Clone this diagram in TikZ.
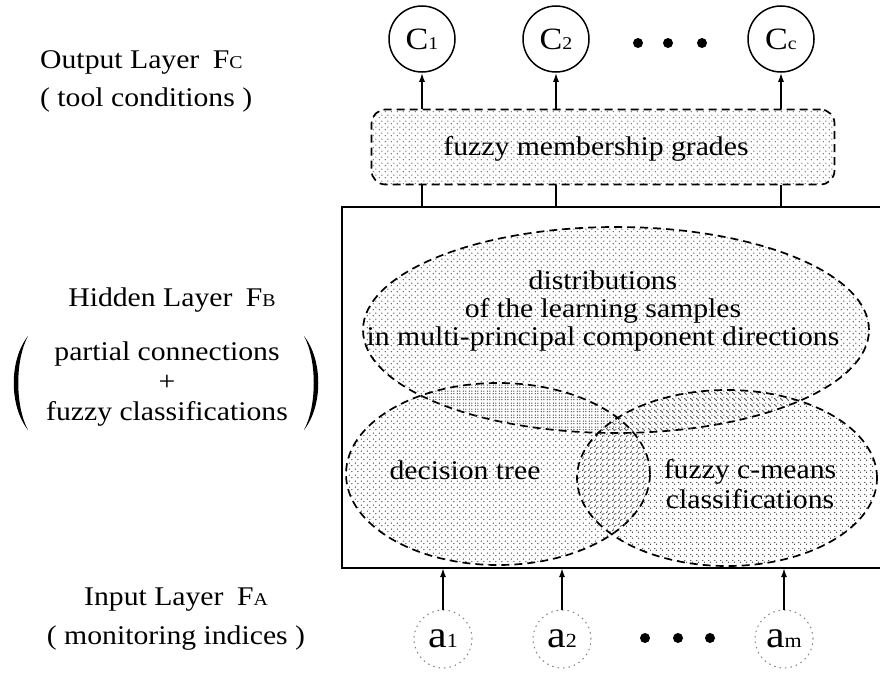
\documentclass[tikz,border=0pt]{standalone}
\usepackage{fontspec}
\setmainfont{Liberation Serif}[FakeStretch=1.1]
\usetikzlibrary{shapes.geometric,arrows.meta,patterns.meta}

% three stipple tilings, offset so that overlapping regions look denser
\tikzdeclarepattern{name=stippleA, type=uncolored,
  bounding box={(0pt,0pt) and (6pt,6pt)}, tile size={(6pt,6pt)},
  code={\fill (1.5pt,1.5pt) circle (0.75pt); \fill (4.5pt,4.5pt) circle (0.75pt);}}
\tikzdeclarepattern{name=stippleB, type=uncolored,
  bounding box={(0pt,0pt) and (6pt,6pt)}, tile size={(6pt,6pt)},
  code={\fill (4.5pt,1.5pt) circle (0.75pt); \fill (1.5pt,4.5pt) circle (0.75pt);}}
\tikzdeclarepattern{name=stippleC, type=uncolored,
  bounding box={(0pt,0pt) and (6pt,6pt)}, tile size={(6pt,6pt)},
  code={\fill (3pt,0.9pt) circle (0.75pt); \fill (0.9pt,3pt) circle (0.75pt);}}

\newcommand{\smallcap}[1]{{\fontsize{18}{18}\selectfont #1}}
\newcommand{\clabel}[2]{{\fontsize{31}{31}\selectfont #1}{\fontsize{18}{18}\selectfont #2}}
\newcommand{\alabel}[2]{{\fontsize{38}{38}\selectfont #1}{\fontsize{20}{20}\selectfont #2}}

\begin{document}
\begin{tikzpicture}[x=1pt, y=-1pt,
  every node/.style={font=\fontsize{27}{27}\selectfont},
  lbl/.style={align=center, inner sep=0pt},
  dashline/.style={line width=1.7pt, dash pattern=on 8pt off 5pt},
  region/.style={ellipse, draw, dashline, inner sep=0pt, pattern color=black!80},
  outnode/.style={circle, draw, line width=1.5pt, minimum size=66pt, inner sep=0pt},
  innode/.style={circle, draw=black!50, line width=1pt, dash pattern=on 1.5pt off 4pt,
                 minimum size=58pt, inner sep=0pt},
  bigdot/.style={circle, fill, inner sep=0pt, minimum size=10pt},
  arr/.style={line width=1.6pt, -{Latex[length=9pt,width=6pt]}},
  link/.style={line width=1.6pt}
]
\useasboundingbox (0,0) rectangle (880,677);

% ---- output layer ----
\node[outnode] (c1) at (422,39) {\clabel{C}{1}};
\node[outnode] (c2) at (556,39) {\clabel{C}{2}};
\node[outnode] (cc) at (781,39) {\clabel{C}{c}};
\node[bigdot] (od1) at (638,43) {};
\node[bigdot] (od2) at (668,43) {};
\node[bigdot] (od3) at (702,43) {};

% ---- fuzzy membership grades ----
\node[draw, dashline, rounded corners=14pt, pattern=stippleA, pattern color=black!70,
      minimum width=463pt, minimum height=75pt, inner sep=0pt] (fmg) at (603,147) {};
\node[lbl] (fmgT) at (596,149) {fuzzy membership grades};

% ---- hidden layer frame (open to the right) ----
\coordinate (hTL) at (342,207);
\coordinate (hBL) at (342,568);
\coordinate (hTR) at (880,207);
\coordinate (hBR) at (880,568);
\draw[line width=1.7pt] (hTR) -- (hTL) -- (hBL) -- (hBR);

% ---- hidden layer regions ----
\node[region, pattern=stippleA, minimum width=506pt, minimum height=206pt] (dist) at (616,330) {};
\node[region, pattern=stippleB, minimum width=304pt, minimum height=182pt] (dtree) at (498,474) {};
\node[region, pattern=stippleC, minimum width=300pt, minimum height=176pt] (fcm) at (727,478) {};
\node[lbl, align=center] (distT) at (603,311) {distributions\\[1pt]of the learning samples\\[1pt]in multi-principal component directions};
\node[lbl] (dtreeT) at (465,470) {decision tree};
\node[lbl] (fcmT) at (750,484) {fuzzy c-means\\[3pt]classifications};

% ---- input layer ----
\node[innode] (a1) at (443,639) {\alabel{a}{1}};
\node[innode] (a2) at (562,639) {\alabel{a}{2}};
\node[innode] (am) at (784,639) {\alabel{a}{m}};
\node[bigdot] (id1) at (645,638) {};
\node[bigdot] (id2) at (678,638) {};
\node[bigdot] (id3) at (710,638) {};

% ---- connectors ----
\draw[arr] (c1 |- fmg.north) -- (c1);
\draw[arr] (c2 |- fmg.north) -- (c2);
\draw[arr] (cc |- fmg.north) -- (cc);
\draw[link] (c1 |- fmg.south) -- (c1 |- hTL);
\draw[link] (c2 |- fmg.south) -- (c2 |- hTL);
\draw[link] (cc |- fmg.south) -- (cc |- hTL);
\draw[arr] (a1) -- (a1 |- hBL);
\draw[arr] (a2) -- (a2 |- hBL);
\draw[arr] (am) -- (am |- hBL);

% ---- layer captions ----
\node[lbl, anchor=west] (outL) at (40,62) {Output Layer\enspace F\smallcap{C}};
\node[lbl, anchor=west] (outS) at (40,100) {( tool conditions )};
\node[lbl] (hidL) at (172,300) {Hidden Layer\enspace F\smallcap{B}};
\node[lbl] (hidS) at (167,384) {partial connections\\[3pt]+\\[3pt]fuzzy classifications};
\fill (28,336) .. controls (9,360) and (9,406) .. (28,430)
      .. controls (15,406) and (15,360) .. (28,336);
\fill (304,336) .. controls (323,360) and (323,406) .. (304,430)
      .. controls (317,406) and (317,360) .. (304,336);
\node[lbl] (inL) at (176,600) {Input Layer\enspace F\smallcap{A}};
\node[lbl] (inS) at (176,638) {( monitoring indices )};
\end{tikzpicture}
\end{document}
